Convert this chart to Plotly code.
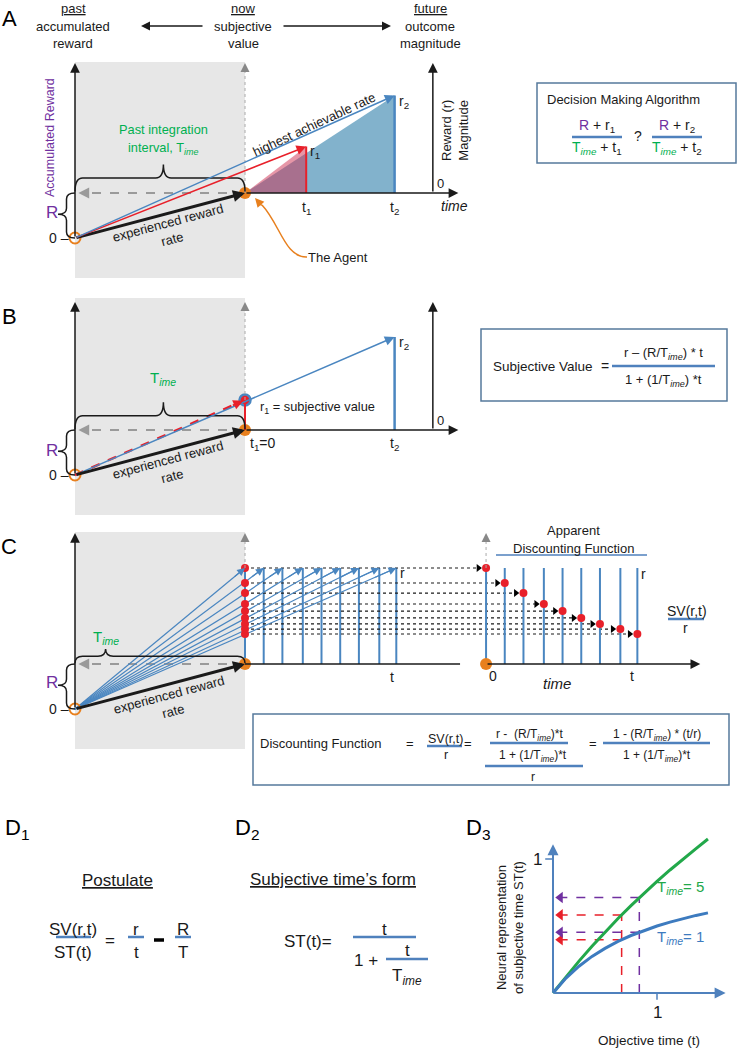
import plotly.graph_objects as go

W, H = 738, 1050
FONT = "Liberation Sans Narrow, Arial Narrow, Liberation Sans, Arial, sans-serif"
FONT_W = "Liberation Sans, Arial, sans-serif"

# ---------------- values ----------------
T_IME = 10.0            # past integration interval (time units)
R_ACC = 3.0             # accumulated reward
# panel A : two options (t1, r1) and (t2, r2)
A_t = [3.6, 8.8]
A_r = [3.1, 6.5]
# panel B
B_t2 = 8.8
B_r2 = 6.2
B_sv = 2.0
# panel C : same reward r at increasing delays, and its subjective values
C_t = [0.0, 1.1, 2.2, 3.4, 4.5, 5.6, 6.7, 7.9, 8.9]
C_r = 6.4
C_sv = [6.4, 5.4, 4.73, 4.0, 3.53, 3.07, 2.67, 2.33, 2.0]
# panel D3 : subjective time for T_ime = 5 and T_ime = 1
D3_t = [0.0, 0.125, 0.25, 0.375, 0.5, 0.625, 0.75, 0.875, 1.0, 1.125, 1.25, 1.375, 1.49]
D3_st_T5 = [0.0, 0.122, 0.238, 0.349, 0.455, 0.556, 0.652, 0.745, 0.833, 0.918, 1.0, 1.078, 1.149]
D3_st_T1 = [0.0, 0.111, 0.2, 0.273, 0.333, 0.385, 0.429, 0.467, 0.5, 0.529, 0.556, 0.579, 0.598]
D3_probe_t = [0.66, 0.83]
D3_probe_T5 = [0.583, 0.712]
D3_probe_T1 = [0.398, 0.454]
D3_T_labels = ["5", "1"]

# ---------------- styles / layout ----------------
BLUE = "#4a86c0"
RED = "#e8202a"
PURPLE = "#7030a0"
GREEN = "#00b050"
ORANGE = "#e8801e"
GRAY = "#9a9a9a"
BGGRAY = "#e7e7e7"
BOXC = "#55799c"
LINEB = "#4f81bd"
INK = "#1a1a1a"
FS = 12.8   # body text size

# pixel anchors of each panel: (x px of t=0, px per unit, y px of v=0, px per unit)
PANEL_PX = {"2": (245, 17.0, 238, 15.0), "3": (245, 17.0, 475, 15.0),
            "4": (245, 17.0, 709, 15.0), "5": (553, 104.0, 993, 134.0)}
C_OFF = 14.18   # horizontal offset of the "apparent discounting" plot in panel C

fig = go.Figure()
shapes, annots = [], []


def refs(k):
    return ("x" + k, "y" + k) if k else ("x", "y")


def line(x0, y0, x1, y1, k="", color=INK, width=1.5, dash=None, layer="above"):
    xr, yr = refs(k)
    shapes.append(dict(type="line", x0=x0, y0=y0, x1=x1, y1=y1, xref=xr, yref=yr,
                       line=dict(color=color, width=width, dash=dash), layer=layer))


def rect(x0, y0, x1, y1, k="", fill="rgba(0,0,0,0)", color=None, width=0, layer="below"):
    xr, yr = refs(k)
    shapes.append(dict(type="rect", x0=x0, y0=y0, x1=x1, y1=y1, xref=xr, yref=yr,
                       fillcolor=fill, line=dict(color=color or fill, width=width), layer=layer))


def path(d, k="", color=INK, width=1.5):
    xr, yr = refs(k)
    shapes.append(dict(type="path", path=d, xref=xr, yref=yr, line=dict(color=color, width=width)))


def arrow(x0, y0, x1, y1, k="", color=INK, width=1.5, size=1.3, head=2):
    xr, yr = refs(k)
    annots.append(dict(x=x1, y=y1, ax=x0, ay=y0, xref=xr, yref=yr, axref=xr, ayref=yr,
                       text="", showarrow=True, arrowhead=head, arrowsize=size,
                       arrowwidth=width, arrowcolor=color, standoff=0, startstandoff=0))


def txt(x, y, s, k="", size=FS, color=INK, angle=0, xa="center", ya="middle",
        font=FONT, xs=0, ys=0, under=False):
    xr, yr = refs(k)
    f = dict(family=font, size=size, color=color)
    if under:
        f["lineposition"] = "under"
    annots.append(dict(x=x, y=y, xref=xr, yref=yr, text=s, showarrow=False, font=f,
                       textangle=angle, xanchor=xa, yanchor=ya, xshift=xs, yshift=ys))


def pts(xs, ys, k, **kw):
    fig.add_trace(go.Scatter(x=xs, y=ys, xaxis="x" + k, yaxis="y" + k,
                             showlegend=False, hoverinfo="skip", **kw))


def hbrace(x0, x1, yb, tipx, h, k, rx=0.45):
    ym, yt = yb + h / 2, yb + h
    d = (f"M {x0},{yb} Q {x0},{ym} {x0+rx},{ym} L {tipx-rx},{ym} Q {tipx},{ym} {tipx},{yt} "
         f"Q {tipx},{ym} {tipx+rx},{ym} L {x1-rx},{ym} Q {x1},{ym} {x1},{yb}")
    path(d, k, INK, 1.5)


def vbrace(xb, y0, y1, tipy, w, k, ry=0.4):
    xm, xt = xb - w / 2, xb - w
    d = (f"M {xb},{y1} Q {xm},{y1} {xm},{y1-ry} L {xm},{tipy+ry} Q {xm},{tipy} {xt},{tipy} "
         f"Q {xm},{tipy} {xm},{tipy-ry} L {xm},{y0+ry} Q {xm},{y0} {xb},{y0}")
    path(d, k, INK, 1.5)


T = T_IME
R = R_ACC
TIME_SUB = "T<sub><i>ime</i></sub>"
GTIME = f"<span style='color:{GREEN}'>{TIME_SUB}</span>"
PR = f"<span style='color:{PURPLE}'>R</span>"


def left_frame(k, top, bg_top):
    """shaded past interval, accumulated-reward axis, agent axis and dashed return arrow"""
    rect(-T, -2.67, 0, bg_top, k, fill=BGGRAY)
    arrow(-T, 0, -T, top, k, INK, 1.5)
    arrow(0, top - 0.55, 0, top, k, "#888888", 1.2, 1.5)
    pts([0, -T + 0.5], [R, R], k, mode="lines", line=dict(color=GRAY, width=1.8, dash="dash"))
    arrow(-T + 0.8, R, -T + 0.2, R, k, GRAY, 1.8, 1.2)
    vbrace(-T, 0, R, R * 0.53, 1.0, k)
    txt(-T, 0, "0 –", k, 14, INK, xa="right", xs=-4)


# ======================= PANEL A =======================
k = "2"
left_frame(k, 11.67, 11.73)
pts([0, A_t[1], A_t[1], 0], [R, R + A_r[1], R, R], k, mode="lines", fill="toself",
    fillcolor="rgba(116,170,198,0.9)", line=dict(width=0))
pts([0, A_t[0], A_t[0], 0], [R, R + A_r[0], R, R], k, mode="lines", fill="toself",
    fillcolor="rgba(205,45,80,0.5)", line=dict(width=0))
line(0, R, 0, 11.15, k, "#aaaaaa", 1, dash="dot")
arrow(0, R, 12.55, R, k, INK, 1.5)
arrow(11.05, R, 11.05, 11.67, k, INK, 1.5)
line(A_t[0], R, A_t[0], R + A_r[0], k, RED, 2)
line(A_t[1], R, A_t[1], R + A_r[1], k, BLUE, 2.5)
arrow(-T, 0, 0, R, k, INK, 3, 0.8)
arrow(-T, 0, A_t[0], R + A_r[0], k, RED, 1.5)
arrow(-T, 0, A_t[1], R + A_r[1], k, BLUE, 1.5)
pts([-T], [0], k, mode="markers", marker=dict(symbol="circle-open", size=11, color=ORANGE, line=dict(width=2)))
pts([0], [R], k, mode="markers", marker=dict(size=12, color=ORANGE))
hbrace(-T, 0, R + 0.1, -4.8, 1.8, k)
txt(52, 212, "R", "", 17, PURPLE)
txt(50, 138, "Accumulated Reward", "", 12.5, PURPLE, angle=-90)
txt(163, 129, "Past integration", "", FS, GREEN)
txt(163, 148, f"interval, {TIME_SUB}", "", FS, GREEN)
txt(170, 231, "experienced reward<br>rate", "", 13, INK, angle=-15)
txt(314, 124, "highest achievable rate", "", 13, INK, angle=-25)
txt(A_t[0], R + A_r[0], "r<sub>1</sub>", k, 14, INK, xa="left", xs=2, ys=-5)
txt(A_t[1], R + A_r[1], "r<sub>2</sub>", k, 14, INK, xa="left", xs=2, ys=-6)
txt(A_t[0], R, "t<sub>1</sub>", k, 14, INK, ya="top", ys=-4)
txt(A_t[1], R, "t<sub>2</sub>", k, 14, INK, ya="top", ys=-4)
txt(11.05, R, "0", k, 13, INK, xa="left", ya="bottom", xs=2)
txt(12.35, R, "<i>time</i>", k, 14, INK, ya="top", ys=-3)
txt(455, 131, "Reward (r)<br>Magnitude", "", 13, INK, angle=-90)
txt(338, 257, "The Agent", "", 13, INK)
path("M 307 257 C 285 258, 280 224, 262 205", "", ORANGE, 1.5)
arrow(263, 207, 255, 198, "", ORANGE, 1.5, 1.2)

# header
for cx, words in ((73, ("past", "accumulated", "reward")),
                  (243, ("now", "subjective", "value")),
                  (430, ("future", "outcome", "magnitude"))):
    txt(cx, 8, words[0], "", 13, INK, under=True)
    txt(cx, 26, words[1], "", 13, INK)
    txt(cx, 43, words[2], "", 13, INK)
arrow(204, 26, 141, 26, "", INK, 1.5, 1.2)
arrow(282, 26, 391, 26, "", INK, 1.5, 1.2)
txt(9, 18, "A", "", 22, "#000", font=FONT_W)

# decision box
rect(537, 83, 736, 163, "", fill="white", color=BOXC, width=1.5, layer="above")
txt(623, 99, "Decision Making Algorithm", "", 13, INK)
for cx, i in ((597, 1), (677, 2)):
    txt(cx, 126, f"{PR} + r<sub>{i}</sub>", "", 14, INK)
    line(cx - 25, 137, cx + 25, 137, "", LINEB, 2.5)
    txt(cx, 148, f"{GTIME} + t<sub>{i}</sub>", "", 14, INK)
txt(638, 136, "?", "", 14, INK)

# ======================= PANEL B =======================
k = "3"
left_frame(k, 11.53, 11.8)
line(0, R + B_sv, 0, 11.0, k, "#aaaaaa", 1, dash="dot")
arrow(0, R, 12.55, R, k, INK, 1.5)
arrow(11.05, R, 11.05, 11.53, k, INK, 1.5)
line(B_t2, R, B_t2, R + B_r2, k, BLUE, 2.5)
line(0, R, 0, R + B_sv, k, RED, 2)
arrow(-T, 0, B_t2, R + B_r2, k, BLUE, 1.5)
pts([-T, -0.3], [0, (R + B_sv) * 9.7 / 10], k, mode="lines", line=dict(color=RED, width=2.5, dash="dash"))
arrow(-0.8, (R + B_sv) * 9.2 / 10, -0.1, (R + B_sv) * 9.9 / 10, k, RED, 2, 1.0)
arrow(-T, 0, 0, R, k, INK, 3, 0.8)
pts([-T], [0], k, mode="markers", marker=dict(symbol="circle-open", size=11, color=ORANGE, line=dict(width=2)))
pts([0], [R], k, mode="markers", marker=dict(size=12, color=ORANGE))
pts([0], [R + B_sv], k, mode="markers", marker=dict(size=11, color=RED, line=dict(color=BLUE, width=2.5)))
hbrace(-T, 0, R + 0.05, -4.8, 1.8, k)
txt(52, 450, "R", "", 17, PURPLE)
txt(163, 378, TIME_SUB, "", 15, GREEN)
txt(170, 468, "experienced reward<br>rate", "", 13, INK, angle=-15)
txt(0, R + B_sv, "r<sub>1</sub> = subjective value", k, FS, INK, xa="left", xs=13, ys=-7)
txt(0, R, "t<sub>1</sub>=0", k, 14, INK, xa="left", ya="top", xs=3, ys=-3)
txt(B_t2, R, "t<sub>2</sub>", k, 14, INK, ya="top", ys=-3)
txt(B_t2, R + B_r2, "r<sub>2</sub>", k, 14, INK, xa="left", xs=2, ys=-6)
txt(11.05, R, "0", k, 13, INK, xa="left", ya="bottom", xs=2)
txt(9, 316, "B", "", 22, "#000", font=FONT_W)

# subjective value box
rect(481, 329, 727, 401, "", fill="white", color=BOXC, width=1.5, layer="above")
txt(543, 366, "Subjective Value", "", 13.5, INK)
txt(605, 366, "=", "", 14, INK)
txt(663, 353, f"r – (R/{TIME_SUB}) * t", "", 13, INK)
line(612, 366, 715, 366, "", LINEB, 2.5)
txt(663, 380, f"1 + (1/{TIME_SUB}) *t", "", 13, INK)

# ======================= PANEL C =======================
k = "4"
left_frame(k, 11.73, 11.8)
line(0, R + C_r, 0, 11.15, k, "#aaaaaa", 1, dash="dot")
line(0, R, 12.65, R, k, INK, 1.5)
for t in C_t:
    line(t, R, t, R + C_r, k, BLUE, 2, layer="below")
for t, sv in zip(C_t, C_sv):
    line(0, R + sv, C_OFF + t - 0.35, R + sv, k, INK, 1.2, dash="dot", layer="below")
# reward-rate lines to each delayed reward (lines as traces, heads as short arrows)
for t in C_t:
    pts([-T, t], [0, R + C_r], k, mode="lines", line=dict(color=BLUE, width=1.2))
    frac = 0.93
    arrow(-T + (t + T) * frac, (R + C_r) * frac, t, R + C_r, k, BLUE, 1.2, 1.3)
arrow(-T, 0, 0, R, k, INK, 3, 0.8)
pts([0] * len(C_sv), [R + s for s in C_sv], k, mode="markers", marker=dict(size=8, color=RED))
pts([-T], [0], k, mode="markers", marker=dict(symbol="circle-open", size=11, color=ORANGE, line=dict(width=2)))
pts([0], [R], k, mode="markers", marker=dict(size=12, color=ORANGE))
hbrace(-T, 0, R + 0.05, -8.2, 0.95, k)
txt(52, 682, "R", "", 17, PURPLE)
txt(106, 637, TIME_SUB, "", 15, GREEN)
txt(171, 703, "experienced reward<br>rate", "", 13, INK, angle=-15)
txt(C_t[-1], R + C_r, "r", k, 14, INK, xa="left", xs=2, ys=-5)
txt(C_t[-1], R, "t", k, 14, INK, xa="right", ya="top", xs=0, ys=-3)
txt(9, 546, "C", "", 22, "#000", font=FONT_W)

# apparent discounting function
line(C_OFF, R + C_r, C_OFF, 11.15, k, "#aaaaaa", 1, dash="dot")
arrow(C_OFF, 11.18, C_OFF, 11.73, k, "#888888", 1.2, 1.5)
for t in C_t:
    line(C_OFF + t, R, C_OFF + t, R + C_r, k, BLUE, 2, layer="below")
arrow(C_OFF, R, C_OFF + 12.6, R, k, INK, 1.5)
pts([C_OFF + t - 0.45 for t in C_t], [R + s for s in C_sv], k, mode="markers",
    marker=dict(symbol="triangle-right", size=7, color="#000"))
pts([C_OFF + t for t in C_t], [R + s for s in C_sv], k, mode="markers", marker=dict(size=8, color=RED))
pts([C_OFF], [R], k, mode="markers", marker=dict(size=12, color=ORANGE))
txt(C_OFF, R, "0", k, 14, INK, xa="left", ya="top", xs=1, ys=-2)
txt(C_OFF + C_t[-1], R, "t", k, 14, INK, xa="right", ya="top", xs=-1, ys=-2)
txt(C_OFF + C_t[-1], R + C_r, "r", k, 14, INK, xa="left", xs=2, ys=-6)
txt(557, 683, "<i>time</i>", "", 15, INK)
txt(573, 530, "Apparent", "", 13, INK)
txt(573, 548, "Discounting Function", "", 13, INK)
line(496, 555, 647, 555, "", LINEB, 1.5)
txt(687, 611, "SV(r,t)", "", 14, INK)
line(668, 619, 704, 619, "", LINEB, 2.5)
txt(685, 628, "r", "", 14, INK)

# discounting function box
rect(253, 714, 729, 785, "", fill="white", color=BOXC, width=1.5, layer="above")
txt(320, 743, "Discounting Function", "", 13, INK)
txt(410, 743, "=", "", 13, INK)
txt(445, 739, "SV(r,t)", "", 12.5, INK)
line(427, 746, 462, 746, "", LINEB, 2.5)
txt(446, 755, "r", "", 12.5, INK)
txt(468, 743, "=", "", 13, INK)
txt(529, 735, f"r -  (R/{TIME_SUB})*t", "", 12, INK)
line(490, 743, 568, 743, "", LINEB, 2.5)
txt(533, 756, f"1 + (1/{TIME_SUB})*t", "", 12, INK)
line(485, 766, 583, 766, "", LINEB, 2.5)
txt(533, 777, "r", "", 12, INK)
txt(593, 743, "=", "", 13, INK)
txt(657, 735, f"1 - (R/{TIME_SUB}) * (t/r)", "", 12, INK)
line(603, 743, 710, 743, "", LINEB, 2.5)
txt(657, 756, f"1 + (1/{TIME_SUB})*t", "", 12, INK)

# ======================= PANEL D =======================
txt(17, 829, "D<sub>1</sub>", "", 22, "#000", font=FONT_W)
txt(117, 880, "Postulate", "", 17, INK, under=True)
txt(73, 929, "SV(r,t)", "", 17, INK)
line(56, 937, 91, 937, "", LINEB, 2.5)
txt(73, 952, "ST(t)", "", 17, INK)
txt(110, 940, "=", "", 17, INK)
txt(136, 929, "r", "", 17, INK)
line(128, 937, 144, 937, "", LINEB, 2.5)
txt(136, 952, "t", "", 17, INK)
line(154, 940, 164, 940, "", "#000", 3.5)
txt(183, 929, "R", "", 17, INK)
line(175, 937, 191, 937, "", LINEB, 2.5)
txt(183, 952, "T", "", 17, INK)

txt(247, 829, "D<sub>2</sub>", "", 22, "#000", font=FONT_W)
txt(333, 879, "Subjective time’s form", "", 17, INK, under=True)
txt(308, 941, "ST(t)=", "", 17, INK)
txt(384, 929, "t", "", 17, INK)
line(353, 937, 416, 937, "", LINEB, 2.5)
txt(366, 960, "1 +", "", 17, INK)
txt(407, 950, "t", "", 17, INK)
line(386, 959, 428, 959, "", LINEB, 2.5)
txt(407, 977, "T<sub><i>ime</i></sub>", "", 17, INK)

txt(478, 829, "D<sub>3</sub>", "", 22, "#000", font=FONT_W)
k = "5"
arrow(0, 0, 0, 1.11, k, LINEB, 2, 1.1)
arrow(0, 0, 1.66, 0, k, LINEB, 2, 1.1)
line(-0.075, 1, 0, 1, k, LINEB, 1.5)
line(1, 0, 1, -0.05, k, LINEB, 1.5)
txt(0, 1, "1", k, 17, INK, xa="right", xs=-9)
txt(1, 0, "1", k, 17, INK, ya="top", ys=-8)
probe_cols = [RED, PURPLE]
for tp, g, b, c in zip(D3_probe_t, D3_probe_T5, D3_probe_T1, probe_cols):
    pts([tp, tp], [0, g], k, mode="lines", line=dict(color=c, width=1.5, dash="dash"))
    for yv in (g, b):
        pts([tp, 0.08], [yv, yv], k, mode="lines", line=dict(color=c, width=1.5, dash="dash"))
    pts([0.07, 0.07], [g, b], k, mode="markers", marker=dict(symbol="triangle-left", size=10, color=c))
pts(D3_t, D3_st_T5, k, mode="lines", line=dict(color="#22a84a", width=3))
pts(D3_t, D3_st_T1, k, mode="lines", line=dict(color="#3d7bbf", width=3))
txt(680, 887, f"T<sub><i>ime</i></sub>= {D3_T_labels[0]}", "", 15, "#22a84a")
txt(680, 937, f"T<sub><i>ime</i></sub>= {D3_T_labels[1]}", "", 15, "#3d7bbf")
txt(510, 928, "Neural representation<br>of subjective time ST(t)", "", 13, INK, angle=-90)
txt(649, 1040, "Objective time (t)", "", 13.5, INK)

# ---------------- layout ----------------
layout = dict(width=W, height=H, autosize=False, margin=dict(l=0, r=0, t=0, b=0),
              paper_bgcolor="white", plot_bgcolor="rgba(0,0,0,0)", showlegend=False,
              shapes=shapes, annotations=annots,
              xaxis=dict(range=[0, W], domain=[0, 1], visible=False, fixedrange=True, anchor="y"),
              yaxis=dict(range=[H, 0], domain=[0, 1], visible=False, fixedrange=True, anchor="x"))
for key, (x0, sx, y0, sy) in PANEL_PX.items():
    layout["xaxis" + key] = dict(range=[-x0 / sx, (W - x0) / sx], domain=[0, 1], visible=False,
                                 fixedrange=True, anchor="y" + key)
    layout["yaxis" + key] = dict(range=[(y0 - H) / sy, y0 / sy], domain=[0, 1], visible=False,
                                 fixedrange=True, anchor="x" + key)
fig.update_layout(**layout)
fig.write_html("out.html", config={"displayModeBar": False},
               post_script="document.body.style.margin='0px';document.body.style.overflow='hidden';")
